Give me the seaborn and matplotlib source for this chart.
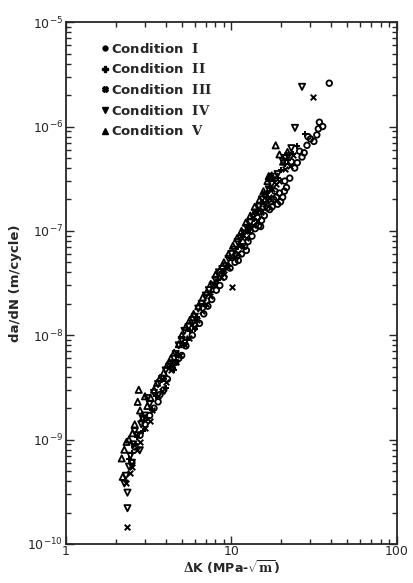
import numpy as np
import pandas as pd
import matplotlib
matplotlib.use("Agg")
from matplotlib import pyplot as plt
from matplotlib.lines import Line2D
import seaborn as sns

# Condition I (open circles)
k_1 = [2.5, 2.6, 2.8, 3.0, 3.2, 3.4, 3.7, 4.1, 4.4, 4.8, 5.3, 5.8, 6.4, 7.2, 8.1,
       9.0, 9.8, 10.5, 10.8, 11.5, 12.0, 12.6, 13.3, 13.9, 14.0, 14.6, 15.2, 15.8,
       16.0, 16.5, 17.0, 17.3, 18.0, 18.7, 19.0, 19.5, 20.4, 21.5, 22.5, 24.1,
       25.0, 26.7, 28.6, 30.0, 32.8, 34.0, 35.6, 39.0,
       11.0, 12.3, 13.0, 14.3, 15.0, 15.5, 16.8, 17.6, 18.3, 19.8, 20.9, 21.0,
       23.0, 25.8, 27.5, 29.0, 31.5, 33.5, 8.5, 7.6, 6.8, 6.0, 5.0, 4.6, 3.6, 3.9]
rate_1 = [6.0e-10, 8.5e-10, 1.1e-9, 1.4e-9, 1.7e-9, 2.0e-9, 2.7e-9, 3.8e-9, 4.8e-9,
          6.0e-9, 7.9e-9, 1.0e-8, 1.3e-8, 1.9e-8, 2.7e-8, 3.6e-8, 4.4e-8, 5.0e-8,
          5.8e-8, 6.0e-8, 7.1e-8, 7.9e-8, 8.9e-8, 1.05e-7, 1.5e-7, 1.12e-7, 1.26e-7,
          1.4e-7, 2.2e-7, 1.66e-7, 1.6e-7, 1.9e-7, 2.0e-7, 2.1e-7, 1.8e-7, 2.3e-7,
          2.1e-7, 2.6e-7, 3.2e-7, 4.0e-7, 4.5e-7, 5.1e-7, 6.6e-7, 7.6e-7, 8.3e-7,
          1.1e-6, 1.0e-6, 2.6e-6,
          5.2e-8, 6.5e-8, 1.0e-7, 1.35e-7, 1.1e-7, 1.7e-7, 2.0e-7, 1.7e-7, 2.4e-7,
          1.9e-7, 2.4e-7, 3.0e-7, 4.6e-7, 5.8e-7, 5.6e-7, 8.0e-7, 7.2e-7, 9.5e-7,
          3.0e-8, 2.2e-8, 1.6e-8, 1.25e-8, 6.4e-9, 5.5e-9, 2.3e-9, 3.0e-9]

# Condition II (plus)
k_2 = [2.4, 2.6, 2.9, 3.1, 3.5, 3.9, 4.3, 4.7, 5.1, 5.6, 6.2, 6.8, 7.5, 8.3, 9.2,
       10.0, 10.9, 11.8, 12.8, 13.6, 14.5, 15.5, 16.5, 18.0, 19.8, 22.0, 25.0, 28.0,
       3.3, 4.0, 4.5, 5.4, 6.0, 7.0, 7.9, 8.8, 9.6, 11.3, 12.3, 13.2, 14.0, 15.0,
       17.0, 19.0, 21.0, 23.5, 2.7, 2.5]
rate_2 = [6.5e-10, 9.0e-10, 1.2e-9, 1.6e-9, 2.6e-9, 3.8e-9, 5.0e-9, 6.5e-9, 8.5e-9,
          1.1e-8, 1.5e-8, 2.0e-8, 2.6e-8, 3.4e-8, 4.3e-8, 5.5e-8, 7.0e-8, 8.8e-8,
          1.08e-7, 1.3e-7, 1.6e-7, 1.9e-7, 2.3e-7, 3.0e-7, 3.8e-7, 4.8e-7, 6.5e-7,
          8.5e-7,
          1.9e-9, 3.1e-9, 4.6e-9, 9.0e-9, 1.15e-8, 1.9e-8, 3.1e-8, 4.0e-8, 4.6e-8,
          7.5e-8, 1.0e-7, 1.1e-7, 1.5e-7, 1.55e-7, 2.6e-7, 3.2e-7, 4.4e-7, 5.5e-7,
          1.05e-9, 7.5e-10]

# Condition III (cross)
k_3 = [2.35, 2.3, 2.5, 2.7, 3.0, 3.3, 3.6, 4.0, 4.6, 5.2, 5.9, 6.6, 7.4, 8.6, 9.5,
       10.1, 11.0, 12.2, 13.5, 15.0, 16.8, 18.5, 21.0, 23.5, 31.0,
       2.45, 2.8, 3.2, 3.8, 4.3, 4.9, 5.5, 6.2, 7.0, 8.0, 9.0, 10.5, 11.7, 12.8,
       14.2, 16.0, 17.5, 19.5, 22.5]
rate_3 = [1.45e-10, 3.8e-10, 5.5e-10, 8.0e-10, 1.3e-9, 1.9e-9, 2.6e-9, 3.6e-9,
          5.5e-9, 8.0e-9, 1.2e-8, 1.7e-8, 2.4e-8, 3.6e-8, 4.5e-8, 2.9e-8, 6.2e-8,
          8.5e-8, 1.15e-7, 1.5e-7, 2.1e-7, 2.8e-7, 3.9e-7, 5.3e-7, 1.9e-6,
          4.8e-10, 9.5e-10, 1.5e-9, 2.9e-9, 4.6e-9, 6.5e-9, 9.5e-9, 1.4e-8, 2.0e-8,
          3.0e-8, 3.9e-8, 5.6e-8, 7.2e-8, 1.0e-7, 1.25e-7, 1.8e-7, 2.5e-7, 3.0e-7,
          4.2e-7]

# Condition IV (down triangle)
k_4 = [2.35, 2.35, 2.3, 2.4, 2.45, 2.55, 2.79, 2.7, 2.85, 3.0, 3.2, 3.4, 3.8, 4.2,
       4.6, 5.0, 5.5, 6.0, 6.6, 7.3, 8.0, 8.8, 9.6, 10.4, 11.4, 12.4, 13.5, 14.7,
       16.0, 17.5, 19.0, 20.5, 22.0, 24.2, 26.7,
       2.25, 2.5, 2.6, 2.9, 3.1, 3.6, 4.0, 4.4, 4.8, 5.2, 5.8, 6.3, 7.0, 7.7, 8.4,
       9.2, 10.0, 10.9, 11.9, 13.0, 14.1, 15.3, 16.8, 18.2, 21.2, 23.0]
rate_4 = [2.2e-10, 3.1e-10, 4.5e-10, 5.5e-10, 7.0e-10, 9.0e-10, 7.9e-10, 1.1e-9,
          1.4e-9, 1.7e-9, 2.2e-9, 2.8e-9, 3.8e-9, 5.0e-9, 6.6e-9, 9.0e-9, 1.2e-8,
          1.5e-8, 2.0e-8, 2.7e-8, 3.4e-8, 4.3e-8, 5.4e-8, 6.6e-8, 8.5e-8, 1.07e-7,
          1.35e-7, 1.7e-7, 2.2e-7, 2.8e-7, 3.5e-7, 4.6e-7, 5.2e-7, 9.7e-7, 2.4e-6,
          3.8e-10, 6.0e-10, 1.2e-9, 1.6e-9, 2.5e-9, 3.4e-9, 4.6e-9, 5.4e-9, 8.0e-9,
          1.1e-8, 1.3e-8, 1.8e-8, 2.4e-8, 3.0e-8, 4.0e-8, 4.6e-8, 6.0e-8, 7.8e-8,
          9.5e-8, 1.2e-7, 1.5e-7, 2.0e-7, 2.5e-7, 3.3e-7, 5.0e-7, 6.2e-7]

# Condition V (up triangle)
k_5 = [2.17, 2.2, 2.32, 2.52, 2.71, 2.75, 2.9, 3.1, 3.4, 3.7, 4.1, 4.5, 5.0, 5.6,
       6.3, 7.1, 8.0, 9.0, 10.2, 11.5, 13.0, 14.8, 16.5, 17.0, 17.1, 17.5, 18.5,
       20.5, 21.8,
       2.25, 2.4, 2.6, 2.8, 3.0, 3.25, 3.55, 3.9, 4.3, 4.8, 5.3, 5.9, 6.7, 7.5,
       8.5, 9.6, 10.8, 12.2, 13.8, 15.6, 16.8, 19.5]
rate_5 = [6.6e-10, 4.4e-10, 9.5e-10, 1.15e-9, 2.3e-9, 3.0e-9, 1.6e-9, 2.1e-9,
          3.0e-9, 3.9e-9, 5.2e-9, 6.8e-9, 1.0e-8, 1.4e-8, 1.9e-8, 2.6e-8, 3.8e-8,
          5.0e-8, 7.2e-8, 1.0e-7, 1.4e-7, 2.0e-7, 3.0e-7, 3.2e-7, 3.3e-7, 3.4e-7,
          6.6e-7, 4.6e-7, 5.7e-7,
          8.0e-10, 1.0e-9, 1.4e-9, 1.9e-9, 2.6e-9, 2.5e-9, 3.5e-9, 4.4e-9, 6.0e-9,
          8.2e-9, 1.2e-8, 1.6e-8, 2.3e-8, 3.1e-8, 4.2e-8, 6.0e-8, 8.5e-8, 1.2e-7,
          1.7e-7, 2.4e-7, 3.35e-7, 5.4e-7]

numerals = ["I", "II", "III", "IV", "V"]

plt.rcParams["mathtext.fontset"] = "custom"
plt.rcParams["mathtext.rm"] = "DejaVu Serif:bold"
plt.rcParams["mathtext.it"] = "DejaVu Serif:italic"
sns.set_style("ticks")
plt.rcParams["font.family"] = ["DejaVu Sans"]

fig = plt.figure(figsize=(4.13, 5.83), dpi=100)
ax = fig.add_axes([0.160, 0.067, 0.801, 0.895])

data = pd.concat([
    pd.DataFrame({"dK": k_1, "rate": rate_1, "cond": "I"}),
    pd.DataFrame({"dK": k_2, "rate": rate_2, "cond": "II"}),
    pd.DataFrame({"dK": k_3, "rate": rate_3, "cond": "III"}),
    pd.DataFrame({"dK": k_4, "rate": rate_4, "cond": "IV"}),
    pd.DataFrame({"dK": k_5, "rate": rate_5, "cond": "V"}),
])

styles = {
    "I": dict(marker="o", s=16, facecolor="none", edgecolor="k", linewidth=1.3),
    "II": dict(marker="+", s=22, color="k", edgecolor="k", linewidth=1.4),
    "III": dict(marker="x", s=16, color="k", edgecolor="k", linewidth=1.4),
    "IV": dict(marker="v", s=20, facecolor="none", edgecolor="k", linewidth=1.3),
    "V": dict(marker="^", s=20, facecolor="none", edgecolor="k", linewidth=1.3),
}
for c in numerals:
    sns.scatterplot(data=data[data.cond == c], x="dK", y="rate", ax=ax,
                    legend=False, **styles[c])

ax.set_xscale("log")
ax.set_yscale("log")
ax.set_xlim(1, 100)
ax.set_ylim(1e-10, 1e-5)

for s in ax.spines.values():
    s.set_visible(True)
    s.set_linewidth(1.3)
ax.tick_params(which="both", direction="in", top=True, right=True, width=1.0,
               labelsize=9, pad=2)
ax.tick_params(axis="x", which="both", pad=1)
ax.tick_params(which="major", length=6)
ax.tick_params(which="minor", length=3.5)
ax.set_xticks([1, 10, 100])
ax.set_xticklabels(["1", "10", "100"])

ax.set_xlabel(r"$\Delta$K (MPa-$\sqrt{\mathrm{m}}$)", fontsize=9,
              fontweight="bold", va="top")
ax.xaxis.set_label_coords(0.5, -0.028)
ax.set_ylabel("da/dN (m/cycle)", fontsize=9.5, fontweight="bold", labelpad=4)

handles = [Line2D([], [], marker=m, color="k", linestyle="none", markersize=ms)
           for m, ms in zip(["o", "P", "X", "v", "^"], [3.5, 4, 4, 4, 4])]
labels = [r"Condition  $\mathrm{%s}$" % n for n in numerals]
ax.legend(handles, labels, loc="upper left", bbox_to_anchor=(0.065, 0.985),
          frameon=False, handletextpad=0.1, handlelength=0.8, labelspacing=0.5,
          prop={"size": 9.5, "weight": "bold"})

sns.despine(ax=ax, top=False, right=False)
fig.savefig("out.png", dpi=100)
